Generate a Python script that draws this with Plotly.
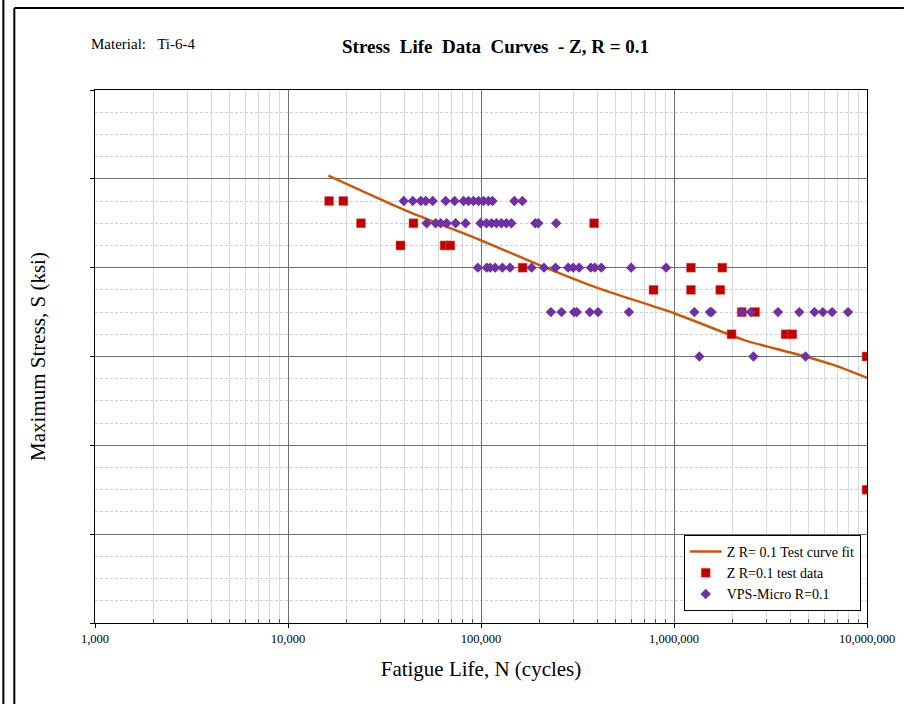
import plotly.graph_objects as go

# ---------------- data ----------------
# Fitted curve  (cycles, ksi)
fit_N = [16200, 40000, 97000, 198000, 404000, 993000, 2310000, 4790000, 6700000, 10000000]
fit_S = [100.7, 93.0, 86.4, 80.7, 75.4, 69.8, 63.7, 60.0, 58.1, 55.2]

# Z R=0.1 test data
z_N = [16330, 19350, 23880, 38280, 44670, 64800, 69340, 164300, 385400, 783200,
       1224000, 1224000, 1779000, 1737000, 2245000, 2633000, 1987000, 3788000,
       4102000, 9950000, 9950000]
z_S = [95, 95, 90, 85, 90, 85, 85, 80, 90, 75,
       80, 75, 80, 75, 70, 70, 65, 65,
       65, 60, 30]

# VPS-Micro R=0.1
v95_N = [39800, 44300, 48700, 51700, 56200, 65600, 73000, 81200, 86200, 91500,
         97100, 103000, 109300, 114700, 148900, 163800]
v90_N = [52300, 58200, 61800, 66400, 73900, 83200, 99400, 106700, 113300, 120200,
         127600, 135400, 143700, 191100, 198100, 245300]
v80_N = [96300, 107100, 111500, 118400, 129100, 141500, 182900, 212000, 243300,
         282900, 300200, 322400, 370600, 388600, 420300, 600200, 910000]
v70_N = [230300, 261200, 303800, 313700, 366100, 404100, 584100, 1275000, 1535000,
         1566000, 2245000, 2499000, 3460000, 4457000, 5346000, 5906000, 6597000, 7978000]
v60_N = [1353000, 2580000, 4803000]

vps_N = v95_N + v90_N + v80_N + v70_N + v60_N
vps_S = ([95] * len(v95_N) + [90] * len(v90_N) + [80] * len(v80_N)
         + [70] * len(v70_N) + [60] * len(v60_N))

x_tickvals = [1000, 10000, 100000, 1000000, 10000000]
x_ticktext = ["1,000", "10,000", "100,000", "1,000,000", "10,000,000"]
x_minor = [k * 10 ** d for d in range(3, 7) for k in range(2, 10)]

FONT = "Liberation Serif, Times New Roman, serif"

# ---------------- figure ----------------
fig = go.Figure()
fig.add_trace(go.Scatter(
    x=fit_N, y=fit_S, mode="lines", name="Z R= 0.1 Test curve fit",
    line=dict(color="#C55A11", width=2.5, shape="spline", smoothing=0.6)))
fig.add_trace(go.Scatter(
    x=z_N, y=z_S, mode="markers", name="Z R=0.1 test data",
    marker=dict(symbol="square", size=9, color="#C00000",
                line=dict(width=0.5, color="#E06666"))))
fig.add_trace(go.Scatter(
    x=vps_N, y=vps_S, mode="markers", name="VPS-Micro R=0.1",
    marker=dict(symbol="diamond", size=8, color="#7030A0", line=dict(width=0))))

L, R, T, B = 95, 37, 90, 81
W, H = 907, 704
pw, ph = W - L - R, H - T - B


def px(xp):
    return (xp - L) / pw


def py(yp):
    return (H - B - yp) / ph


fig.update_layout(
    width=W, height=H,
    margin=dict(l=L, r=R, t=T, b=B),
    paper_bgcolor="white", plot_bgcolor="white",
    font=dict(family=FONT, color="black"),
    showlegend=True,
    legend=dict(
        x=px(686), y=py(535), xanchor="left", yanchor="top",
        bgcolor="white", bordercolor="black", borderwidth=1,
        font=dict(size=14, family=FONT), tracegroupgap=0, itemwidth=32),
    xaxis=dict(
        type="log", range=[3, 7],
        tickmode="array", tickvals=x_tickvals, ticktext=x_ticktext,
        tickfont=dict(size=12.5, family=FONT),
        showgrid=True, gridcolor="#6e6e6e", gridwidth=1,
        showline=True, linecolor="black", linewidth=1, mirror=True,
        ticks="outside", ticklen=4, tickcolor="black",
        zeroline=False,
        minor=dict(tickmode="array", tickvals=x_minor, showgrid=True,
                   gridcolor="#dadada", gridwidth=1, ticks="inside",
                   ticklen=4, tickcolor="#555555"),
        title=dict(text="Fatigue Life, N (cycles)", font=dict(size=21, family=FONT),
                   standoff=16),
    ),
    yaxis=dict(
        range=[0, 120], tickmode="linear", tick0=0, dtick=20,
        showticklabels=False,
        showgrid=True, gridcolor="#6e6e6e", gridwidth=1,
        showline=True, linecolor="black", linewidth=1, mirror=True,
        ticks="outside", ticklen=4, tickcolor="black",
        zeroline=False,
        minor=dict(dtick=5, tick0=0, showgrid=True, gridcolor="#d0d0d0",
                   griddash="3px,2px", gridwidth=1),
        title=dict(text="Maximum Stress, S (ksi)", font=dict(size=21, family=FONT),
                   standoff=38),
    ),
    annotations=[
        dict(text="Material:\u00a0\u00a0\u00a0Ti-6-4", xref="paper", yref="paper",
             x=px(89), y=py(44), xanchor="left", yanchor="middle", showarrow=False,
             font=dict(size=15, family=FONT)),
        dict(text="<b>Stress\u00a0 Life\u00a0 Data\u00a0 Curves\u00a0 - Z, R = 0.1</b>",
             xref="paper", yref="paper",
             x=px(497), y=py(47), xanchor="center", yanchor="middle", showarrow=False,
             font=dict(size=19, family=FONT)),
    ],
    shapes=[
        dict(type="line", xref="paper", yref="paper", x0=px(3), x1=px(3),
             y0=py(0), y1=py(704), line=dict(color="black", width=2)),
        dict(type="line", xref="paper", yref="paper", x0=px(14), x1=px(14),
             y0=py(8), y1=py(704), line=dict(color="black", width=2)),
        dict(type="line", xref="paper", yref="paper", x0=px(14), x1=px(907),
             y0=py(8), y1=py(8), line=dict(color="black", width=2)),
    ],
)

fig.write_html("out.html")
